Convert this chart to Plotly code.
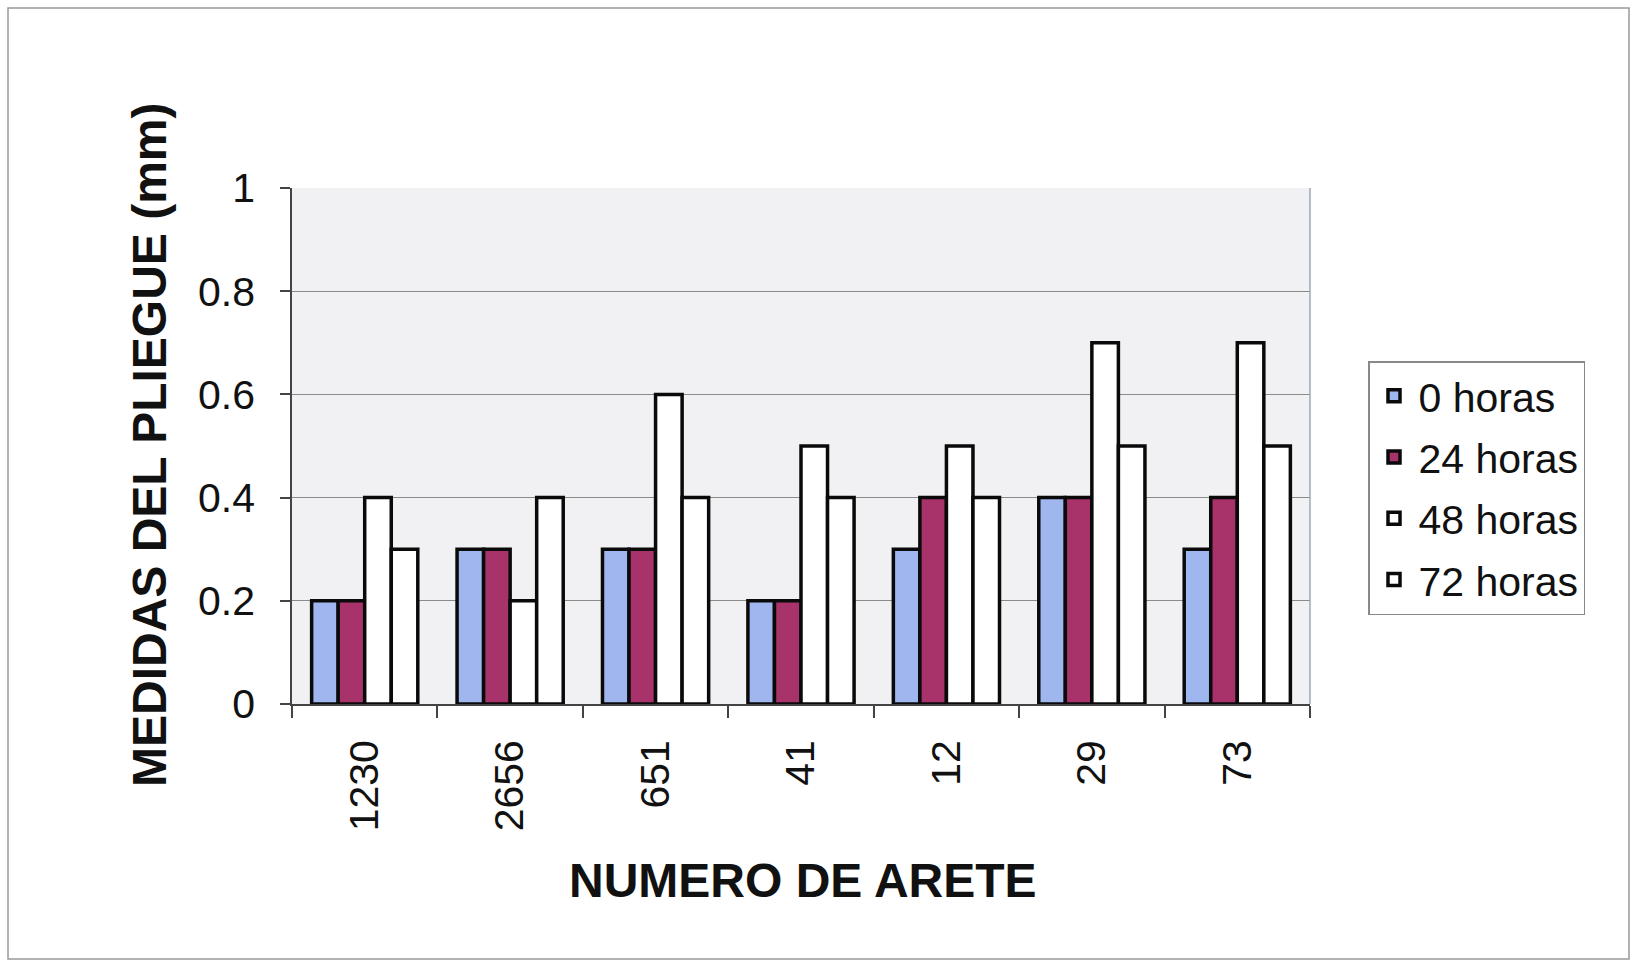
import plotly.graph_objects as go

categories = ["1230", "2656", "651", "41", "12", "29", "73"]
series_names = ["0 horas", "24 horas", "48 horas", "72 horas"]
h0 = [0.2, 0.3, 0.3, 0.2, 0.3, 0.4, 0.3]
h24 = [0.2, 0.3, 0.3, 0.2, 0.4, 0.4, 0.4]
h48 = [0.4, 0.2, 0.6, 0.5, 0.5, 0.7, 0.7]
h72 = [0.3, 0.4, 0.4, 0.4, 0.4, 0.5, 0.5]
colors = ["#9fb6ef", "#a8326a", "#ffffff", "#ffffff"]
y_ticks = [0, 0.2, 0.4, 0.6, 0.8, 1]
y_tick_text = ["0", "0.2", "0.4", "0.6", "0.8", "1"]

FONT = "Liberation Sans, Arial, sans-serif"

fig = go.Figure()
for name, vals, col in zip(series_names, [h0, h24, h48, h72], colors):
    fig.add_trace(go.Bar(
        x=categories, y=vals, name=name, legendgroup=name,
        marker=dict(color=col, line=dict(color="#0a0a0a", width=3.5)),
    ))

W, H = 1634, 964
L, R, T, B = 292, 1310, 188, 704
pw, ph = R - L, B - T

def px(x):
    return (x - L) / pw

def py(y):
    return (B - y) / ph

fig.update_layout(
    width=W, height=H,
    margin=dict(l=L, r=W - R, t=T, b=H - B, pad=0),
    paper_bgcolor="white",
    plot_bgcolor="#f1f1f3",
    barmode="group",
    bargap=0.27,
    bargroupgap=0,
    font=dict(family=FONT, size=41, color="#111111"),
    showlegend=True,
    legend=dict(
        x=px(1368), y=py(361), xanchor="left", yanchor="top",
        bgcolor="white", bordercolor="#888888", borderwidth=1.5,
        font=dict(family=FONT, size=41, color="#111111"),
        itemwidth=39, tracegroupgap=5,
    ),
    xaxis=dict(
        type="category",
        tickangle=-90,
        ticks="outside", ticklen=12, tickwidth=1.5, tickcolor="#444444",
        tickson="boundaries",
        showline=True, linecolor="#444444", linewidth=1.5,
        showgrid=False,
        tickfont=dict(family=FONT, size=41, color="#111111"),
        ticklabelstandoff=18,
    ),
    yaxis=dict(
        range=[0, 1],
        tickvals=y_ticks, ticktext=y_tick_text,
        ticks="outside", ticklen=10, tickwidth=1.5, tickcolor="#444444",
        showline=True, linecolor="#444444", linewidth=1.5,
        showgrid=True, gridcolor="#8a8a8a", gridwidth=1.2,
        zeroline=False,
        tickfont=dict(family=FONT, size=41, color="#111111"),
        ticklabelstandoff=17,
    ),
    annotations=[
        dict(text="<b>NUMERO DE ARETE</b>", xref="paper", yref="paper",
             x=px(803), y=py(880), xanchor="center", yanchor="middle",
             showarrow=False, font=dict(family=FONT, size=48, color="#111111")),
        dict(text="<b>MEDIDAS DEL PLIEGUE (mm)</b>", xref="paper", yref="paper",
             x=px(149), y=py(445), xanchor="center", yanchor="middle",
             textangle=-90,
             showarrow=False, font=dict(family=FONT, size=48, color="#111111")),
    ],
    shapes=[
        dict(type="rect", xref="paper", yref="paper",
             x0=px(8), x1=px(1629), y0=py(959), y1=py(8),
             line=dict(color="#999999", width=1.5), fillcolor="rgba(0,0,0,0)",
             layer="below"),
        dict(type="line", xref="paper", yref="paper",
             x0=1, x1=1, y0=0, y1=1,
             line=dict(color="#9aa8b8", width=1.5)),
    ],
)

fig.write_html("out.html")
